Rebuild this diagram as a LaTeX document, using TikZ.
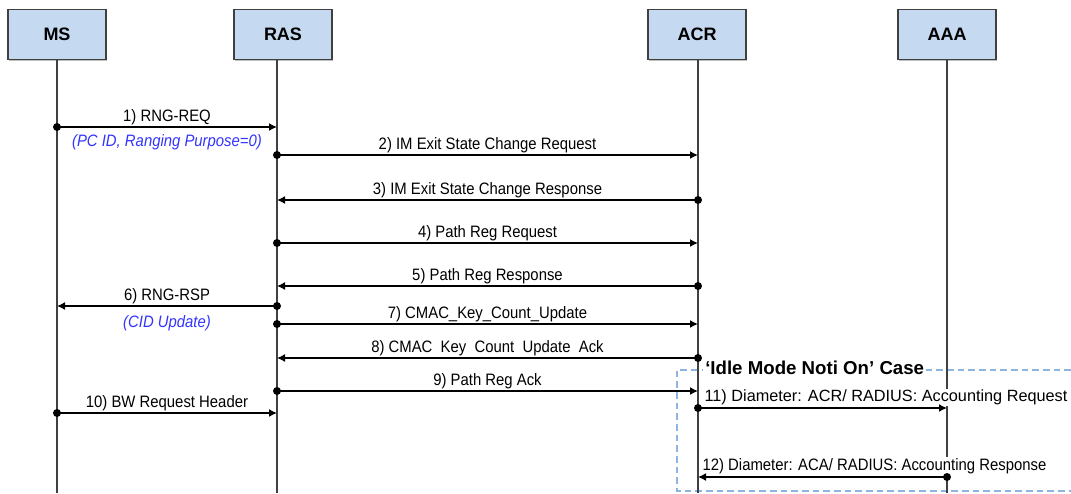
\documentclass[tikz,border=0pt]{standalone}
\usepackage{fontspec}
\setmainfont{Liberation Sans}
\newfontfamily\msgfont[FakeStretch=0.9]{Liberation Sans}
\usetikzlibrary{arrows.meta,shadows}
\definecolor{boxblue}{RGB}{197,217,240}
\definecolor{boxline}{RGB}{64,64,64}
\definecolor{noteblue}{RGB}{51,51,255}
\definecolor{caseblue}{RGB}{141,180,226}

\begin{document}
\begin{tikzpicture}[x=0.75pt,y=-0.75pt,
		entity/.style={draw=boxline, line width=0.8pt, fill=boxblue,
			minimum width=73.5pt, minimum height=37pt,
			font=\bfseries\fontsize{13.5}{16}\selectfont,
			drop shadow={shadow xshift=1pt, shadow yshift=-1.2pt, fill=gray, opacity=.5}},
		lifeline/.style={draw=boxline, line width=1.5pt},
		msg/.style={line width=1.1pt, -{Latex[length=6pt,width=6pt]}},
		msglabel/.style={font=\msgfont\fontsize{12.4}{14}\selectfont, text height=8.9pt,
			text depth=2.3pt, inner sep=1pt},
		note/.style={font=\msgfont\itshape\fontsize{12.4}{14}\selectfont, text=noteblue, inner sep=1pt}]
	\useasboundingbox (0,0) rectangle (1071,493);
	% entities
	\node[entity] (ms) at (57,34.5) {MS};
	\node[entity] (ras) at (283,34.5) {RAS};
	\node[entity] (acr) at (697,34.5) {ACR};
	\node[entity] (aaa) at (947,34.5) {AAA};
	% idle mode case frame
	\draw[caseblue, line width=0.8pt, dash pattern=on 5pt off 3pt]
		(1071,370) -- (677,370) -- (677,491) -- (1071,491);
	% lifelines
	\coordinate (msL) at (57,59);
	\coordinate (rasL) at (277,59);
	\coordinate (acrL) at (698,59);
	\coordinate (aaaL) at (947,59);
	\foreach \l in {msL,rasL,acrL,aaaL}
		\draw[lifeline] (\l) -- (\l |- 0,493);
	\node[anchor=west, fill=white, inner sep=1.5pt,
		font=\bfseries\fontsize{14}{16}\selectfont] (casetitle) at (703,368) {‘Idle Mode Noti On’ Case};
	\node[msglabel, font=\fontsize{12.2}{14}\selectfont, fill=white, anchor=south west]
		(lbl11) at (703,406.5) {11) Diameter: ACR/ RADIUS: Accounting Request};
	\node[msglabel, fill=white, anchor=south west]
		(lbl12) at (701,475) {12) Diameter: ACA/ RADIUS: Accounting Response};
	% messages
	\foreach \f/\t/\y/\txt [count=\i] in {
			msL/rasL/127/{1) RNG-REQ},
			rasL/acrL/155/{2) IM Exit State Change Request},
			acrL/rasL/200/{3) IM Exit State Change Response},
			rasL/acrL/243/{4) Path Reg Request},
			acrL/rasL/286/{5) Path Reg Response},
			rasL/msL/306/{6) RNG-RSP},
			rasL/acrL/324/{7) CMAC\_Key\_Count\_Update},
			acrL/rasL/358/{8) CMAC\enspace Key\enspace Count\enspace Update\enspace Ack},
			rasL/acrL/391/{9) Path Reg Ack},
			msL/rasL/413/{10) BW Request Header}} {
		\draw[msg] (\f |- 0,\y) -- node[msglabel, midway, above=0.5pt] (lbl\i) {\txt} (\t |- 0,\y);
		\fill (\f |- 0,\y) circle[radius=4];
	}
	\draw[msg] (acrL |- 0,408) -- (aaaL |- 0,408);
	\fill (acrL |- 0,408) circle[radius=4];
	\draw[msg] (aaaL |- 0,477) -- (acrL |- 0,477);
	\fill (aaaL |- 0,477) circle[radius=4];
	% notes
	\node[note] (note1) at (167,142) {(PC ID, Ranging Purpose=0)};
	\node[note] (note6) at (167,323) {(CID Update)};
\end{tikzpicture}
\end{document}
